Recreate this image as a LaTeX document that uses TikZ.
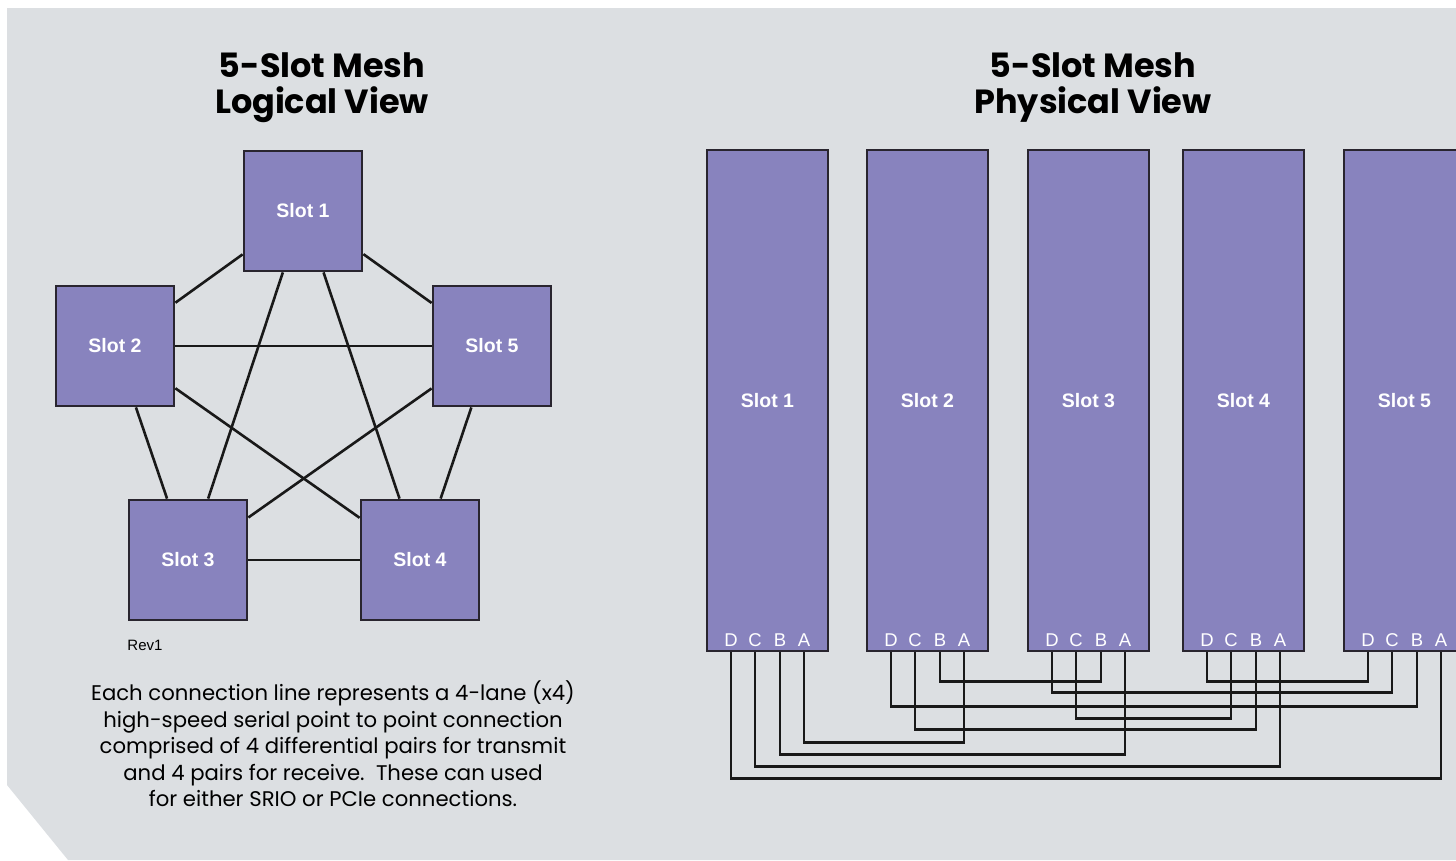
\documentclass[tikz,border=0pt]{standalone}
\usepackage{fontspec}
\setmainfont{Liberation Sans}
\newfontfamily\headfont{Poppins}
\usetikzlibrary{positioning}
\definecolor{panelgray}{HTML}{DCDFE2}
\definecolor{slotfill}{HTML}{8883BE}
\definecolor{slotedge}{HTML}{29252F}
\tikzset{
  slot/.style={draw=slotedge, fill=slotfill, line width=2.8pt, text=white,
    font=\fontsize{19.5}{22}\selectfont\bfseries},
  lslot/.style={slot, minimum width=118pt, minimum height=120pt},
  pslot/.style={slot, minimum width=121pt, minimum height=501pt},
  pin/.style={text=white, font=\fontsize{18.5}{20}\selectfont, inner sep=0pt},
  link/.style={line width=2.6pt, draw=black!90},
  wire/.style={line width=2.6pt, draw=black!90},
  heading/.style={font=\headfont\bfseries\fontsize{33.5}{36}\selectfont, align=center},
}

\begin{document}
\begin{tikzpicture}[x=1pt, y=-1pt]

  \useasboundingbox (0,0) rectangle (1456,860);
  % grey panel with the cut corner
  \fill[panelgray] (7,8) -- (1456,8) -- (1456,860) -- (68,860) -- (7,785) -- cycle;

  % Titles
  \node[heading] (ltitle) at (322,88) {5-Slot Mesh\\Logical View};
  \node[heading] (ptitle) at (1093,88) {5-Slot Mesh\\Physical View};

  % Logical view
  \node[lslot] (l1) at (303,211) {Slot 1};
  \node[lslot] (l2) at (115,346) {Slot 2};
  \node[lslot] (l3) at (188,560) {Slot 3};
  \node[lslot] (l4) at (420,560) {Slot 4};
  \node[lslot] (l5) at (492,346) {Slot 5};
  \foreach \a/\b in {1/2,1/3,1/4,1/5,2/3,2/4,2/5,3/4,3/5,4/5}
    \draw[link] (l\a) -- (l\b);

  \node[font=\fontsize{15}{17}\selectfont] (rev) at (145,645) {Rev1};
  \node[font=\headfont\fontsize{21.2}{26.5}\selectfont, align=center] (note) at (333,744)
    {Each connection line represents a 4-lane (x4)\\
     high-speed serial point to point connection\\
     comprised of 4 differential pairs for transmit\\
     and 4 pairs for receive.\ \ These can used\\
     for either SRIO or PCIe connections.};

  % Physical view
  \foreach \s/\l in {1/706,2/866,3/1027,4/1182,5/1343} {
    \node[pslot] (p\s) at (\l+61.5,400.5) {Slot \s};
    \foreach \p/\o in {D/25,C/49,B/74,A/98}
      \node[pin] (p\s\p) at (\l+\o,640) {\p};
  }

  % backplane wiring, drop below the slots
  \foreach \a/\b/\d in {1A/2A/90, 1B/3A/102, 1C/4A/114, 1D/5A/126,
                        2B/3B/29, 2C/4B/77, 2D/5B/54,
                        3C/4C/66, 3D/5C/40, 4D/5D/29}
    \draw[wire] (p\a |- p1.south) -- ++(0,\d) -| (p\b |- p1.south);

\end{tikzpicture}
\end{document}
